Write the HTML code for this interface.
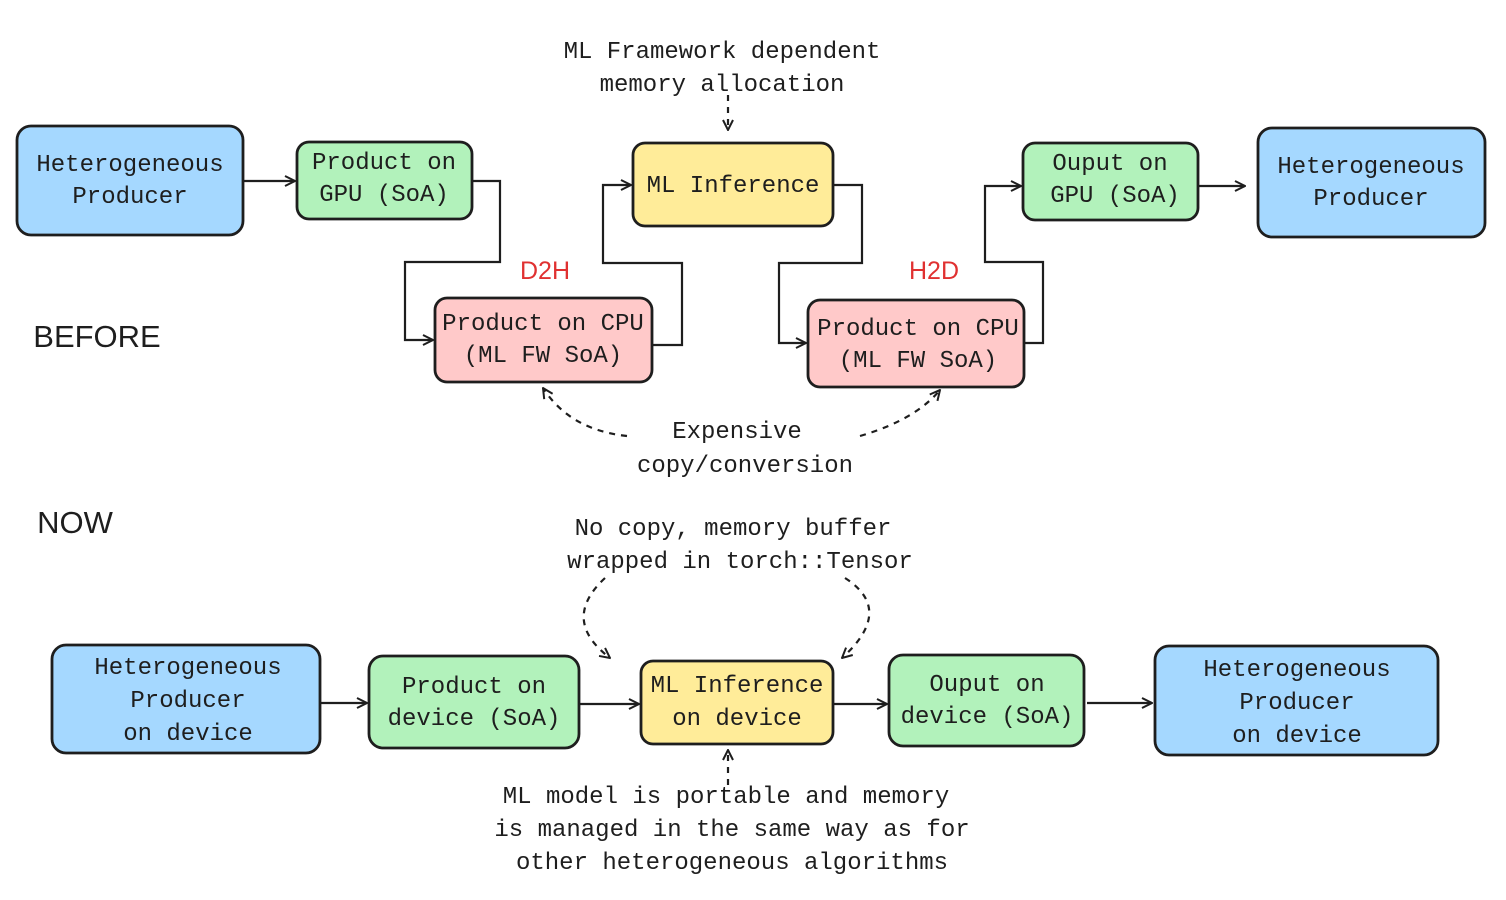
<!DOCTYPE html>
<html><head><meta charset="utf-8"><style>
html,body{margin:0;padding:0;background:#fff;}
svg text{font-family:"Liberation Mono",monospace;font-size:24px;fill:#1e1e1e;}
</style></head><body>
<svg width="1506" height="895" viewBox="0 0 1506 895" xmlns="http://www.w3.org/2000/svg">
<defs>
<marker id="ah" viewBox="0 0 12 12" refX="11" refY="6" markerWidth="12" markerHeight="12" markerUnits="userSpaceOnUse" orient="auto">
<path d="M1,1 L11,6 L1,11" fill="none" stroke="#1e1e1e" stroke-width="2"/>
</marker>
</defs>
<g stroke="#1e1e1e" stroke-width="2.8">
<rect x="17" y="126" width="226" height="109" rx="14" fill="#a5d8ff"/>
<rect x="297" y="142" width="175" height="77" rx="12" fill="#b2f2bb"/>
<rect x="633" y="143" width="200" height="83" rx="12" fill="#ffec99"/>
<rect x="1023" y="143" width="175" height="77" rx="12" fill="#b2f2bb"/>
<rect x="1258" y="128" width="227" height="109" rx="14" fill="#a5d8ff"/>
<rect x="435" y="298" width="217" height="84" rx="12" fill="#ffc9c9"/>
<rect x="808" y="300" width="216" height="87" rx="12" fill="#ffc9c9"/>

<rect x="52" y="645" width="268" height="108" rx="14" fill="#a5d8ff"/>
<rect x="369" y="656" width="210" height="92" rx="14" fill="#b2f2bb"/>
<rect x="641" y="661" width="192" height="83" rx="12" fill="#ffec99"/>
<rect x="889" y="655" width="195" height="91" rx="14" fill="#b2f2bb"/>
<rect x="1155" y="646" width="283" height="109" rx="14" fill="#a5d8ff"/>
</g>
<g fill="none" stroke="#1e1e1e" stroke-width="2.2" marker-end="url(#ah)">
<path d="M243,181 L295,181"/>
<path d="M472,181 L500,181 L500,262 L405,262 L405,340 L433,340"/>
<path d="M652,345 L682,345 L682,263 L603,263 L603,185 L631,185"/>
<path d="M833,185 L862,185 L862,263 L779,263 L779,343 L806,343"/>
<path d="M1024,343 L1043,343 L1043,262 L985,262 L985,186 L1021,186"/>
<path d="M1198,186 L1245,186"/>
<path d="M320,703 L367,703"/>
<path d="M579,704 L639,704"/>
<path d="M833,704 L887,704"/>
<path d="M1087,703 L1152,703"/>
</g>
<g fill="none" stroke="#1e1e1e" stroke-width="2.2" stroke-dasharray="6,6" marker-end="url(#ah)">
<path d="M728,95 L728,130"/>
<path d="M627,436 Q570,430 543,388"/>
<path d="M860,436 Q915,420 940,390"/>
<path d="M605,578 Q560,620 610,658"/>
<path d="M845,578 Q895,610 842,658"/>
<path d="M728,785 L728,750"/>
</g>
<g text-anchor="middle">
<text x="130" y="171">Heterogeneous</text><text x="130" y="203">Producer</text>
<text x="384" y="169">Product on</text><text x="384" y="201">GPU (SoA)</text>
<text x="733" y="192">ML Inference</text>
<text x="1110" y="170">Ouput on</text><text x="1115" y="202">GPU (SoA)</text>
<text x="1371" y="173">Heterogeneous</text><text x="1371" y="205">Producer</text>
<text x="543" y="330">Product on CPU</text><text x="543" y="362">(ML FW SoA)</text>
<text x="918" y="335">Product on CPU</text><text x="918" y="367">(ML FW SoA)</text>
<text x="722" y="58">ML Framework dependent</text><text x="722" y="91">memory allocation</text>
<text x="737" y="438">Expensive</text><text x="745" y="472">copy/conversion</text>
<text x="733" y="535">No copy, memory buffer</text><text x="740" y="568">wrapped in torch::Tensor</text>
<text x="188" y="674">Heterogeneous</text><text x="188" y="707">Producer</text><text x="188" y="740">on device</text>
<text x="474" y="693">Product on</text><text x="474" y="725">device (SoA)</text>
<text x="737" y="692">ML Inference</text><text x="737" y="725">on device</text>
<text x="987" y="691">Ouput on</text><text x="987" y="723">device (SoA)</text>
<text x="1297" y="676">Heterogeneous</text><text x="1297" y="709">Producer</text><text x="1297" y="742">on device</text>
<text x="726" y="803">ML model is portable and memory</text>
<text x="732" y="836">is managed in the same way as for</text>
<text x="732" y="869">other heterogeneous algorithms</text>
<text x="545" y="279" style="font-family:'Liberation Sans',sans-serif;font-size:25px;fill:#e03131">D2H</text>
<text x="934" y="279" style="font-family:'Liberation Sans',sans-serif;font-size:25px;fill:#e03131">H2D</text>
<text x="97" y="347" style="font-family:'Liberation Sans',sans-serif;font-size:31px">BEFORE</text>
<text x="75" y="533" style="font-family:'Liberation Sans',sans-serif;font-size:31px">NOW</text>
</g>
</svg>
</body></html>
